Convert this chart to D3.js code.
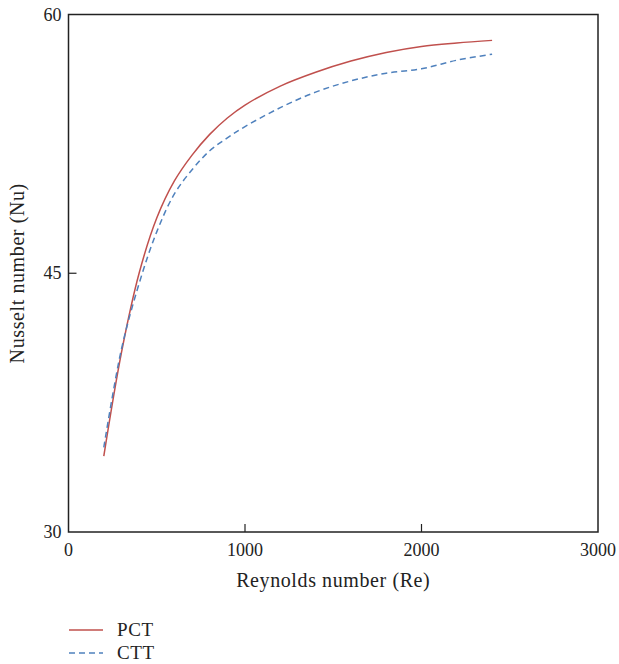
<!DOCTYPE html>
<html>
<head>
<meta charset="utf-8">
<script src="https://cdn.jsdelivr.net/npm/d3@7"></script>
<style>
  body { margin: 0; background: #fff; }
  svg { display: block; font-family: 'Liberation Serif', 'DejaVu Serif', serif; }
</style>
</head>
<body>
<svg id="chart" width="619" height="664"></svg>
<script>
// Reynolds numbers sampled along both curves
const reynolds = [200, 300, 400, 500, 600, 700, 800, 900, 1000, 1200, 1400, 1600, 1800, 2000, 2200, 2400];
const pctNu = [34.4, 40.4, 45.0, 48.2, 50.35, 51.85, 53.05, 54.0, 54.75, 55.85, 56.65, 57.3, 57.8, 58.15, 58.35, 58.5];
const cttNu = [34.9, 40.6, 44.4, 47.4, 49.6, 51.0, 52.1, 52.85, 53.5, 54.6, 55.5, 56.15, 56.6, 56.85, 57.35, 57.7];
const xTicks = [0, 1000, 2000, 3000];
const yTicks = [30, 45, 60];
const seriesNames = ['PCT', 'CTT'];

const colors = {PCT: '#c0504d', CTT: '#4f81bd'};
const dashes = {PCT: null, CTT: '6 4'};
const series = {
  PCT: reynolds.map((re, i) => ({re, nu: pctNu[i]})),
  CTT: reynolds.map((re, i) => ({re, nu: cttNu[i]})),
};

const margin = {left: 68.5, top: 14.5, right: 21, bottom: 132};
const width = 619, height = 664;
const svg = d3.select('#chart');

const x = d3.scaleLinear().domain([0, 3000]).range([margin.left, width - margin.right]);
const y = d3.scaleLinear().domain([30, 60]).range([height - margin.bottom, margin.top]);

// frame
svg.append('rect')
  .attr('x', x(0)).attr('y', y(60))
  .attr('width', x(3000) - x(0)).attr('height', y(30) - y(60))
  .attr('fill', 'none').attr('stroke', '#222').attr('stroke-width', 1.5);

// inward ticks on the inner values only
svg.selectAll('.xtick')
  .data(xTicks.slice(1, -1))
  .enter().append('line')
  .attr('x1', d => x(d)).attr('x2', d => x(d))
  .attr('y1', y(30)).attr('y2', y(30) - 8)
  .attr('stroke', '#222').attr('stroke-width', 1.2);

svg.selectAll('.ytick')
  .data(yTicks.slice(1, -1))
  .enter().append('line')
  .attr('x1', x(0)).attr('x2', x(0) + 8)
  .attr('y1', d => y(d)).attr('y2', d => y(d))
  .attr('stroke', '#222').attr('stroke-width', 1.2);

svg.selectAll('.xlabel')
  .data(xTicks)
  .enter().append('text')
  .attr('x', d => x(d)).attr('y', y(30) + 24)
  .attr('text-anchor', 'middle')
  .attr('font-size', 18)
  .attr('fill', '#222')
  .text(d => d);

svg.selectAll('.ylabel')
  .data(yTicks)
  .enter().append('text')
  .attr('x', x(0) - 7).attr('y', d => y(d) + 6)
  .attr('text-anchor', 'end')
  .attr('font-size', 18)
  .attr('fill', '#222')
  .text(d => d);

svg.append('text')
  .attr('x', (x(0) + x(3000)) / 2).attr('y', 587)
  .attr('text-anchor', 'middle')
  .attr('font-size', 20)
  .attr('letter-spacing', 0.6)
  .attr('fill', '#222')
  .text('Reynolds number (Re)');

svg.append('text')
  .attr('transform', `translate(24, ${y(45)}) rotate(-90)`)
  .attr('text-anchor', 'middle')
  .attr('font-size', 20)
  .attr('letter-spacing', 0.6)
  .attr('fill', '#222')
  .text('Nusselt number (Nu)');

const line = d3.line()
  .x(d => x(d.re))
  .y(d => y(d.nu))
  .curve(d3.curveCatmullRom.alpha(0.5));

seriesNames.forEach(name => {
  svg.append('path')
    .attr('d', line(series[name]))
    .attr('fill', 'none')
    .attr('stroke', colors[name])
    .attr('stroke-width', 1.5)
    .attr('stroke-dasharray', dashes[name]);
});

// legend
const legend = svg.append('g').attr('transform', 'translate(69, 630)');
seriesNames.forEach((name, i) => {
  const g = legend.append('g').attr('transform', `translate(0, ${i * 23})`);
  g.append('line')
    .attr('x1', 0).attr('x2', 34)
    .attr('stroke', colors[name])
    .attr('stroke-width', 1.5)
    .attr('stroke-dasharray', dashes[name]);
  g.append('text')
    .attr('x', 48).attr('y', 6)
    .attr('font-size', 19)
    .attr('letter-spacing', 0.6)
    .attr('fill', '#222')
    .text(name);
});
</script>
</body>
</html>
